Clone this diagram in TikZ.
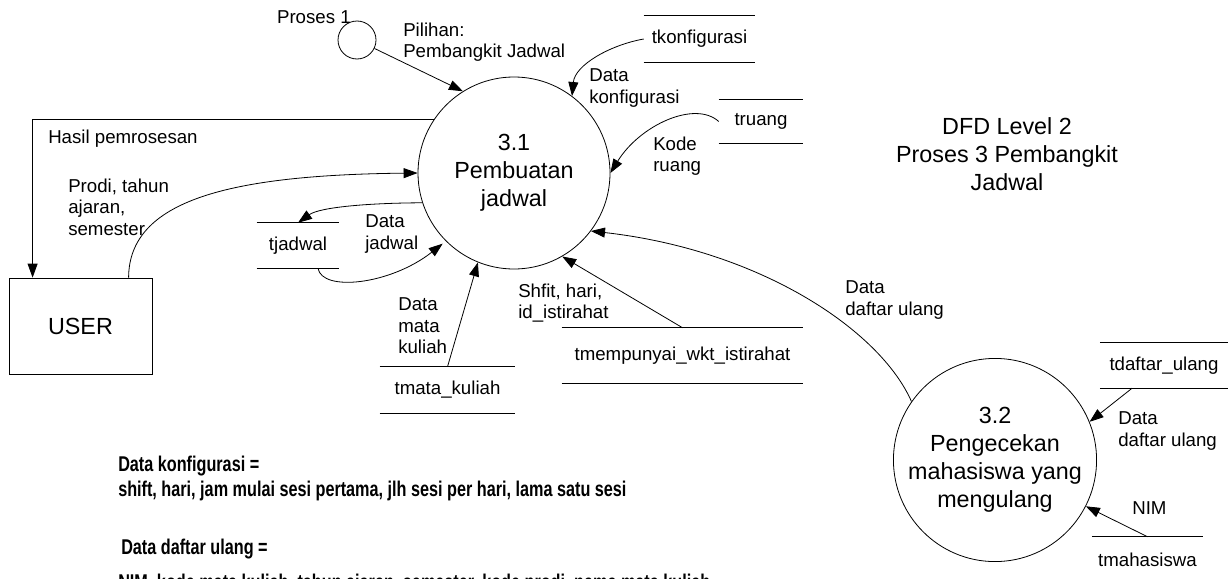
\documentclass[tikz,border=0pt]{standalone}
\usepackage{fontspec}
\setmainfont{Liberation Sans}
\newfontfamily\narrowfont[FakeStretch=0.76]{Liberation Sans}
\usetikzlibrary{arrows.meta}
\newdimen\pxu \pxu=0.75pt

\begin{document}
\begin{tikzpicture}[x=0.75pt,y=-0.75pt,
  every node/.style={inner sep=0pt},
  lbl/.style={font=\fontsize{14}{16.2}\selectfont, align=left, anchor=north west},
  big/.style={font=\fontsize{17.5}{21}\selectfont, align=center},
  proc/.style={circle, draw, line width=0.6pt, big, minimum size=192\pxu},
  store/.style={font=\fontsize{14}{16.2}\selectfont},
  flow/.style={-{Triangle[length=10.5pt,width=7.5pt]}, line width=0.6pt},
  note/.style={font=\narrowfont\bfseries\fontsize{16}{18}\selectfont, anchor=base west}
]
\useasboundingbox (0,0) rectangle (1230,578);

% processes and external entity
\node[proc] (c31) at (514,173) {3.1\\Pembuatan\\jadwal};
\node[proc] (c32) at (995,460) {3.2\\Pengecekan\\mahasiswa yang\\mengulang};
\node[circle, draw, line width=0.6pt, minimum size=38\pxu] (p1) at (357,40) {};
\node[anchor=base east, font=\fontsize{14}{16.2}\selectfont] (p1lbl) at (351,23) {Proses 1};
\node[draw, line width=0.6pt, minimum width=143\pxu, minimum height=96\pxu, big] (user) at (80.5,326) {USER};

% data stores
\node[store, minimum width=111\pxu, minimum height=46\pxu] (tkonf) at (699.5,39) {tkonfigurasi};
\node[store, minimum width=84\pxu, minimum height=43\pxu] (truang) at (761,121.5) {truang};
\node[store, minimum width=82\pxu, minimum height=45\pxu] (tjadwal) at (298,245.5) {tjadwal};
\node[store, minimum width=135\pxu, minimum height=46\pxu] (tmk) at (447.5,390) {tmata\_kuliah};
\node[store, minimum width=241\pxu, minimum height=55\pxu] (twkt) at (682.5,355.5) {tmempunyai\_wkt\_istirahat};
\node[store, minimum width=128\pxu, minimum height=45\pxu] (tdu) at (1164,365.5) {tdaftar\_ulang};
\node[store, minimum width=111\pxu, minimum height=46\pxu] (tmhs) at (1147.5,560) {tmahasiswa};
\foreach \s in {tkonf,truang,tjadwal,tmk,twkt,tdu,tmhs}
  \draw[line width=0.6pt] (\s.north west) -- (\s.north east) (\s.south west) -- (\s.south east);

% data flows
\draw[flow] (p1) -- (c31.122);
\draw[flow] (c31.146) -| ([xshift=24\pxu]user.north west);
\draw[flow] ([xshift=120\pxu]user.north west) .. controls (129,200) and (230,175) .. (c31.west);
\draw[flow] (c31.198) .. controls (370,203) and (320,207) .. (tjadwal.north);
\draw[flow, shorten >=3pt] ([xshift=20\pxu]tjadwal.south) .. controls (322,292) and (390,285) .. (c31.225);
\draw[flow] (tmk.north) -- (c31.248);
\draw[flow] (twkt.north) -- (c31.300);
\draw[flow] (c32.145) .. controls (880,330) and (760,250) .. (c31.323);
\draw[flow] (truang.west) .. controls (695,100) and (640,125) .. (c31.east);
\draw[flow] (tkonf.west) .. controls (610,45) and (575,65) .. (c31.53);
\draw[flow] ([xshift=-32\pxu]tdu.south) -- (c32.22);
\draw[flow] (tmhs.north) -- (c32.-27);

% flow labels
\node[lbl] (l1) at (403,22.5) {Pilihan:\\Pembangkit Jadwal};
\node[lbl] (l2) at (589,68.5) {Data\\konfigurasi};
\node[lbl] (l3) at (653,136.5) {Kode\\ruang};
\node[lbl] (l4) at (48,129.5) {Hasil pemrosesan};
\node[lbl] (l5) at (68,178.5) {Prodi, tahun\\ajaran,\\semester};
\node[lbl] (l6) at (365,214.5) {Data\\jadwal};
\node[lbl] (l7) at (398,297.5) {Data\\mata\\kuliah};
\node[lbl] (l8) at (518,283.5) {Shfit, hari,\\id\_istirahat};
\node[lbl] (l9) at (845,280.5) {Data\\daftar ulang};
\node[lbl] (l10) at (1118,411.5) {Data\\daftar ulang};
\node[lbl] (l11) at (1132,501.5) {NIM};

% title
\node[big, anchor=north] (title) at (1007,117) {DFD Level 2\\Proses 3 Pembangkit\\Jadwal};

% data dictionary notes
\node[note] (n1) at (118,471) {Data konfigurasi =};
\node[note] (n2) at (118,496) {shift, hari, jam mulai sesi pertama, jlh sesi per hari, lama satu sesi};
\node[note] (n3) at (121,554) {Data daftar ulang =};
\node[note] (n4) at (118,589) {NIM, kode mata kuliah, tahun ajaran, semester, kode prodi, nama mata kuliah};
\end{tikzpicture}
\end{document}
